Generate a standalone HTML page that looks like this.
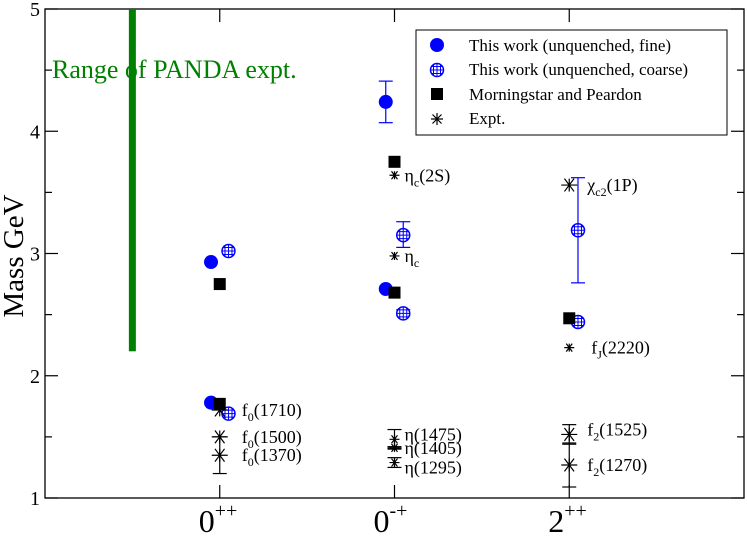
<!DOCTYPE html>
<html><head><meta charset="utf-8"><style>
body{margin:0;background:#fff;}
svg{display:block;font-family:"Liberation Serif",serif;}
</style></head><body>
<svg id="chart" width="747" height="536" viewBox="0 0 747 536" xmlns="http://www.w3.org/2000/svg">
<g id="axes"></g>
<g id="marks"></g>
<g id="legend">
<rect x="416" y="30" width="311" height="105" fill="#fff" stroke="#000" stroke-width="1"/>
<circle cx="437" cy="45" r="7" fill="#0000ff"/>
<text x="469" y="51" font-size="17">This work (unquenched, fine)</text>
<g><circle cx="437" cy="70" r="6.5" fill="none" stroke="#0000ff" stroke-width="1.5"/><path d="M430.5 70H443.5M437 63.5V76.5M433.5 64.5V75.5M440.5 64.5V75.5M431.5 66.5H442.5M431.5 73.5H442.5" stroke="#0000ff" stroke-width="1"/></g>
<text x="469" y="75" font-size="17">This work (unquenched, coarse)</text>
<rect x="431" y="88" width="12" height="12" fill="#000"/>
<text x="469" y="100" font-size="17">Morningstar and Peardon</text>
<path d="M431 119H443M437 113V125M432.5 114.5L441.5 123.5M441.5 114.5L432.5 123.5" stroke="#000" stroke-width="1.2"/>
<text x="469" y="124" font-size="17">Expt.</text>
</g>
</svg>
<script>
const categories = ["0++","0-+","2++"];
const yTicks = [1,2,3,4,5];
const fineCat = [0,0,1,1];
const fineVal = [2.93,1.78,4.24,2.71];
const fineErrLo = [2.93,1.78,4.07,2.71];
const fineErrHi = [2.93,1.78,4.41,2.71];
const coarseCat = [0,0,1,1,2,2];
const coarseVal = [3.02,1.69,3.15,2.51,3.19,2.44];
const coarseErrLo = [3.02,1.69,3.05,2.49,2.76,2.44];
const coarseErrHi = [3.02,1.69,3.26,2.54,3.62,2.44];
const mpCat = [0,0,1,1,2];
const mpVal = [2.75,1.77,3.75,2.68,2.47];
const exptCat = [0,0,0,1,1,1,1,1,2,2,2,2];
const exptVal = [1.72,1.50,1.35,3.64,2.98,1.48,1.41,1.29,3.56,2.23,1.52,1.27];
const exptErrLo = [1.72,1.50,1.20,3.64,2.98,1.41,1.40,1.25,3.56,2.23,1.44,1.09];
const exptErrHi = [1.72,1.50,1.50,3.64,2.98,1.56,1.42,1.33,3.56,2.23,1.60,1.45];
const exptSize = [8,8,8,5,5,5,5,5,8,5,8,8];
const exptLabel = ["f|0|(1710)","f|0|(1500)","f|0|(1370)","η|c|(2S)","η|c|","η(1475)||","η(1405)||","η(1295)||","χ|c2|(1P)","f|J|(2220)","f|2|(1525)","f|2|(1270)"];
const labelDx = [22,22,22,10,10,10,10,10,18,22,18,18];
const labelDy = [0,0,0,0,0,-5,0,5,0,0,-5,0];
const pandaRange = [2.2,5];
const pandaX = -0.5;

const NS="http://www.w3.org/2000/svg";
const L=45,R=744,T=9,B=498;
const X=v=>L+(v+1)/4*(R-L);
const Y=v=>B-(v-1)/4*(B-T);
const axes=document.getElementById('axes'), marks=document.getElementById('marks');
function mk(tag,attrs,parent){const e=document.createElementNS(NS,tag);for(const k in attrs)e.setAttribute(k,attrs[k]);parent.appendChild(e);return e;}

let pb=mk('rect',{x:X(pandaX)-3.5,y:Y(pandaRange[1]),width:7,height:Y(pandaRange[0])-Y(pandaRange[1]),fill:'#008000'},marks);


let pt=mk('text',{x:52,y:78,'font-size':26,fill:'#008000'},marks);pt.textContent='Range of PANDA expt.';



let fr=mk('rect',{x:L,y:T,width:R-L,height:B-T,fill:'none',stroke:'#000','stroke-width':1.3},axes);


for(let v=1;v<=5;v+=0.5){
  const major=Number.isInteger(v), len=major?13:7, y=Y(v);
  mk('line',{x1:L,x2:L+len,y1:y,y2:y,stroke:'#000','stroke-width':1.2},axes);
  mk('line',{x1:R-len,x2:R,y1:y,y2:y,stroke:'#000','stroke-width':1.2},axes);
}
yTicks.forEach(v=>{let t=mk('text',{x:40,y:Y(v)+7,'font-size':20,'text-anchor':'end'},axes);t.textContent=v;

});
let yt=mk('text',{x:0,y:0,'font-size':29,'text-anchor':'middle',transform:'translate(23,256) rotate(-90)'},axes);yt.textContent='Mass GeV';


categories.forEach((c,i)=>{
  mk('line',{x1:X(i),x2:X(i),y1:B,y2:B-13,stroke:'#000','stroke-width':1.2},axes);
  mk('line',{x1:X(i),x2:X(i),y1:T,y2:T+13,stroke:'#000','stroke-width':1.2},axes);
  let t=mk('text',{x:X(i)-21,y:532,'font-size':32},axes);
  
  
  const a=document.createElementNS(NS,'tspan');a.textContent=c[0];t.appendChild(a);
  const b=document.createElementNS(NS,'tspan');b.textContent=c.slice(1);b.setAttribute('font-size','20');b.setAttribute('dy','-15');t.appendChild(b);
});
function err(x,lo,hi,col){if(hi-lo<0.01)return;
  mk('line',{x1:x,x2:x,y1:Y(lo),y2:Y(hi),stroke:col,'stroke-width':1.2},marks);
  mk('line',{x1:x-7,x2:x+7,y1:Y(lo),y2:Y(lo),stroke:col,'stroke-width':1.2},marks);
  mk('line',{x1:x-7,x2:x+7,y1:Y(hi),y2:Y(hi),stroke:col,'stroke-width':1.2},marks);}
fineVal.forEach((v,i)=>{const x=X(fineCat[i]-0.05);err(x,fineErrLo[i],fineErrHi[i],'#0000ff');
  let c=mk('circle',{cx:x,cy:Y(v),r:7,fill:'#0000ff'},marks);
  
  });
coarseVal.forEach((v,i)=>{const x=X(coarseCat[i]+0.05),y=Y(v);err(x,coarseErrLo[i],coarseErrHi[i],'#0000ff');
  let g=mk('g',{},marks);
  
  
  mk('circle',{cx:x,cy:y,r:6.5,fill:'#fff',stroke:'#0000ff','stroke-width':1.5},g);
  mk('path',{d:`M${x-6.5} ${y}H${x+6.5}M${x} ${y-6.5}V${y+6.5}M${x-3.5} ${y-5.5}V${y+5.5}M${x+3.5} ${y-5.5}V${y+5.5}M${x-5.5} ${y-3.5}H${x+5.5}M${x-5.5} ${y+3.5}H${x+5.5}`,stroke:'#0000ff','stroke-width':1},g);});
mpVal.forEach((v,i)=>{let r=mk('rect',{x:X(mpCat[i])-6,y:Y(v)-6,width:12,height:12,fill:'#000'},marks);
  
  });
exptVal.forEach((v,i)=>{const x=X(exptCat[i]),y=Y(v),s=exptSize[i];err(x,exptErrLo[i],exptErrHi[i],'#000');
  let p=mk('path',{d:`M${x-s} ${y}H${x+s}M${x-s*0.6} ${y-s*0.8}L${x+s*0.6} ${y+s*0.8}M${x+s*0.6} ${y-s*0.8}L${x-s*0.6} ${y+s*0.8}M${x} ${y-s*0.8}V${y+s*0.8}`,stroke:'#000','stroke-width':1.2,fill:'none'},marks);
  
  
  const parts=exptLabel[i].split('|');
  let t=mk('text',{x:x+labelDx[i],y:y+6+labelDy[i],'font-size':18},marks);
  
  
  const a=document.createElementNS(NS,'tspan');a.textContent=parts[0];t.appendChild(a);
  if(parts[1]){const b=document.createElementNS(NS,'tspan');b.textContent=parts[1];b.setAttribute('font-size','12');b.setAttribute('dy','5');t.appendChild(b);
   const c=document.createElementNS(NS,'tspan');c.textContent=parts[2];c.setAttribute('dy','-5');t.appendChild(c);}
  else if(parts[2]){const c=document.createElementNS(NS,'tspan');c.textContent=parts[2];t.appendChild(c);}
});
</script>
</body></html>
